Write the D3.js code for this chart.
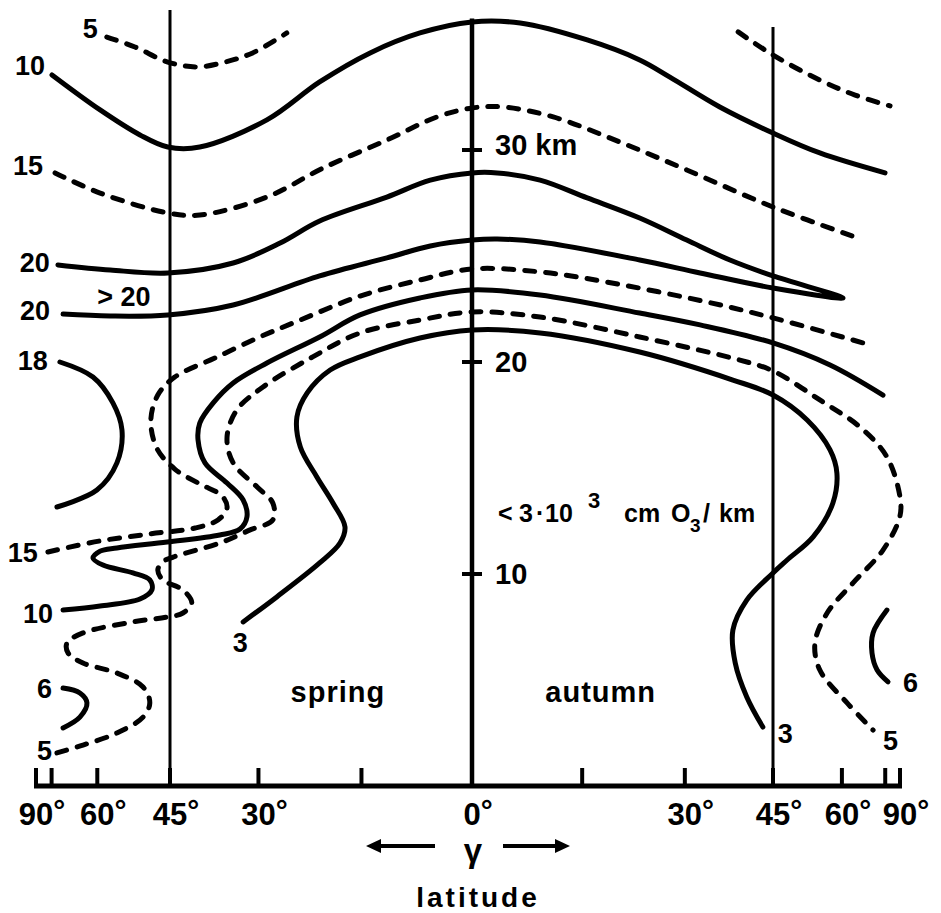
<!DOCTYPE html>
<html>
<head>
<meta charset="utf-8">
<script src="https://cdn.jsdelivr.net/npm/d3@7"></script>
<style>
  html, body { margin: 0; padding: 0; background: #fff; }
  svg { display: block; }
  text { font-family: "Liberation Sans", Arial, sans-serif; font-weight: bold; fill: #000; }
</style>
</head>
<body>
<svg id="chart" width="941" height="913"></svg>
<script>
// Ozone density isopleths (units of 10^3 cm O3/km) against latitude and height.
// Each point: [latitude in degrees (spring hemisphere negative, autumn positive), height in km]

const spring5High = [[-57.7,35.33],[-51.6,34.86],[-45.4,34.15],[-40.1,33.92],[-35.3,34.15],[-30.9,34.58],[-25.7,35.52]];
const autumn5High = [[38.7,35.57],[45,34.48],[54.6,33.30],[63.7,32.59],[77.7,32.08]];

const iso10High = [[-74.8,33.54],[-59.3,31.89],[-50.6,30.71],[-45.4,30.14],[-39.6,30.14],[-28.7,31.42],
  [-20.9,33.21],[-13.8,34.58],[-7.0,35.52],[0,36.04],[6.5,35.99],[15.7,35.19],[23.2,34.25],[27.7,33.44],
  [35.6,32.03],[45,30.80],[54.6,29.86],[74.9,28.92]];

const iso15High = [[-73.4,28.92],[-59.3,27.97],[-45.4,27.03],[-39.6,26.93],[-28.7,27.78],[-20.4,29.15],
  [-11.5,30.47],[-4.7,31.56],[0,31.98],[4.2,32.03],[11.0,31.56],[20.3,30.38],[30.3,29.06],[45,27.31],[64.6,25.85]];

// closed lens of the 20 isopleth: upper branch eastward, back along the lower branch
const iso20 = [[-72.2,24.58],[-56.9,24.34],[-45.4,24.20],[-34.0,24.67],[-26.7,25.61],[-20.9,26.65],
  [-11.5,27.78],[-5.6,28.58],[0,28.92],[3.4,28.92],[9.2,28.58],[15.7,27.74],[23.2,26.79],[30.3,25.75],
  [37.3,24.81],[45,24.06],[60.3,23.02],
  [45,23.49],[32.4,24.20],[23.2,24.81],[9.2,25.66],[3.4,25.80],[0,25.75],[-5.6,25.47],[-11.5,24.91],
  [-20.9,24.06],[-34.0,22.69],[-45.4,22.22],[-56.9,22.17],[-70.2,22.26]];

const iso18 = [[-71.4,20.0],[-61.1,19.29],[-56.3,18.07],[-54.3,16.79],[-55.4,15.24],[-60.1,13.96],[-72.6,13.16]];

const iso15Low = [[-76.9,11.04],[-59.3,11.56],[-48.7,11.89],[-40.4,12.17],[-36.5,12.55],[-35.0,13.11],
  [-35.8,13.68],[-39.6,14.25],[-44.1,14.95],[-47.4,15.94],[-48.5,17.26],[-47.2,18.44],[-44.1,19.29],
  [-37.0,20.19],[-29.8,21.18],[-23.7,21.98],[-15.2,23.11],[-7.0,23.87],[0,24.39],[9.2,24.25],
  [18.5,23.77],[33.5,22.83],[45,22.08],[66.2,20.90]];

const iso10Low = [[-70.2,8.30],[-59.3,8.49],[-50.6,8.82],[-48.3,9.25],[-48.7,9.72],[-52.0,10.05],
  [-58.6,10.42],[-61.1,10.75],[-59.3,11.08],[-55.4,11.23],[-45.5,11.51],[-36.2,11.84],[-32.9,12.12],
  [-31.8,12.69],[-32.4,13.49],[-35.0,14.29],[-38.7,15.24],[-39.9,16.32],[-39.6,17.12],[-37.3,18.07],
  [-34.0,19.01],[-28.7,19.95],[-20.9,21.18],[-15.2,22.22],[-7.0,23.02],[0,23.40],[9.2,23.16],
  [23.2,22.31],[32.4,21.75],[45,20.90],[57.0,19.86],[73.9,18.44]];

const iso5Low = [[-72.6,1.56],[-63.8,1.93],[-55.4,2.50],[-50.0,3.25],[-48.7,3.92],[-50.0,4.67],
  [-55.4,5.33],[-63.8,5.80],[-68.4,6.27],[-68.8,6.75],[-63.8,7.22],[-52.0,7.74],[-45.5,7.97],
  [-42.6,8.16],[-41.0,8.63],[-42.6,9.25],[-46.3,9.72],[-47.2,10.19],[-46.3,10.57],[-44.4,10.80],
  [-36.2,11.46],[-31.3,12.08],[-27.8,12.55],[-27.8,13.35],[-30.2,14.10],[-34.0,15.24],[-35.0,16.46],
  [-33.4,17.74],[-29.3,18.82],[-21.9,20.24],[-15.2,21.37],[-7.0,21.98],[0,22.36],[9.2,22.12],
  [23.2,21.18],[39.0,20.09],[45,19.58],[54.6,18.21],[65.2,16.93],[75.9,15.52],[90,13.63],[88,12.69],
  [73.9,11.13],[63.1,9.58],[56.3,8.16],[53.5,6.75],[54.6,5.47],[61.4,3.92],[69.7,2.64]];

const iso3 = [[-32.4,7.74],[-27.2,8.92],[-20.9,10.52],[-18.0,11.46],[-17.3,12.22],[-19.0,13.35],
  [-21.3,14.58],[-23.7,15.99],[-24.2,17.41],[-22.7,18.54],[-19.4,19.62],[-15.2,20.24],[-7.0,21.13],
  [0,21.51],[9.2,21.37],[23.2,20.47],[37.8,19.15],[45,18.44],[51.8,17.26],[57.0,15.85],[58.7,14.76],
  [57.7,13.35],[53.1,11.75],[47.7,10.66],[45,10.05],[40.2,8.77],[37.8,7.36],[38.2,5.80],[40.2,4.20],[43.1,2.78]];

const spring6 = [[-70.2,4.62],[-64.7,4.39],[-62.7,3.92],[-64.7,3.25],[-70.2,2.74]];
const autumn6 = [[75.9,8.30],[69.7,7.22],[69.3,6.27],[71.3,5.47],[76.5,4.91]];

// axis values
const latTicks = [-90,-75,-60,-45,-30,-15,0,15,30,45,60,75,90];
const latLabels = [-90,-60,-45,-30,0,30,45,60,90];
const heightTicks = [10,20,30];
const heightLabels = ["10","20","30 km"];
const meridianLats = [-45,0,45];
const meridianTops = [36.6,36.2,35.8];

// ---------------------------------------------------------------
const svg = d3.select("#chart");
svg.append("rect").attr("width",941).attr("height",913).attr("fill","#fff");

// equal-area latitude axis: position proportional to sin(latitude)
const S45 = Math.SQRT1_2;
const xSin = d3.scaleLinear().domain([-1,-S45,0,S45,1]).range([36,170,472,773,900]);
const xPos = lat => xSin(Math.sin(lat * Math.PI / 180));
const yPos = d3.scaleLinear().domain([0,30]).range([786,150]);

// meridians at 45° and the equator
svg.append("g").selectAll("line").data(meridianLats).join("line")
  .attr("x1", d => xPos(d)).attr("x2", d => xPos(d))
  .attr("y1", (d,i) => yPos(meridianTops[i])).attr("y2", yPos(0))
  .attr("stroke","#000").attr("stroke-width", d => d === 0 ? 4.5 : 3);

// height ticks on the equator line
const hg = svg.append("g");
hg.selectAll("line").data(heightTicks).join("line")
  .attr("x1", xPos(0) - 10).attr("x2", xPos(0) + 10)
  .attr("y1", d => yPos(d)).attr("y2", d => yPos(d))
  .attr("stroke","#000").attr("stroke-width",4);
hg.selectAll("text").data(heightTicks).join("text")
  .attr("x", xPos(0) + 23).attr("y", (d,i) => yPos(d) + (i === 2 ? 5 : 10))
  .attr("font-size",29).text((d,i) => heightLabels[i]);

// isopleths
const line = d3.line().x(d => xPos(d[0])).y(d => yPos(d[1])).curve(d3.curveCatmullRom.alpha(0.5));

const contours = [
  { pts: spring5High, dashed: true,  labels: [{ t:"5",  at:"start", anchor:"end", dx:-9,  dy:1 }] },
  { pts: autumn5High, dashed: true,  labels: [] },
  { pts: iso10High,   dashed: false, labels: [{ t:"10", at:"start", anchor:"end", dx:-7,  dy:0 }] },
  { pts: iso15High,   dashed: true,  labels: [{ t:"15", at:"start", anchor:"end", dx:-12, dy:2 }] },
  { pts: iso20,       dashed: false, labels: [{ t:"20", at:"start", anchor:"end", dx:-8,  dy:7 },
                                              { t:"20", at:"end",   anchor:"end", dx:-13, dy:6 }] },
  { pts: iso18,       dashed: false, labels: [{ t:"18", at:"start", anchor:"end", dx:-12, dy:8 }] },
  { pts: iso15Low,    dashed: true,  labels: [{ t:"15", at:"start", anchor:"end", dx:-10, dy:10 }] },
  { pts: iso10Low,    dashed: false, labels: [{ t:"10", at:"start", anchor:"end", dx:-10, dy:13 }] },
  { pts: iso5Low,     dashed: true,  labels: [{ t:"5",  at:"start", anchor:"end", dx:-5,  dy:7 },
                                              { t:"5",  at:"end",   anchor:"start", dx:10, dy:20 }] },
  { pts: iso3,        dashed: false, labels: [{ t:"3",  at:"start", anchor:"middle", dx:-3, dy:30 },
                                              { t:"3",  at:"end",   anchor:"start", dx:15, dy:16 }] },
  { pts: spring6,     dashed: false, labels: [{ t:"6",  at:"start", anchor:"end", dx:-11, dy:10 }] },
  { pts: autumn6,     dashed: false, labels: [{ t:"6",  at:"end",   anchor:"start", dx:15, dy:10 }] }
];

const cg = svg.append("g");
cg.selectAll("path").data(contours).join("path")
  .attr("d", d => line(d.pts))
  .attr("fill","none").attr("stroke","#000").attr("stroke-width",5)
  .attr("stroke-linecap","round").attr("stroke-linejoin","round")
  .attr("stroke-dasharray", d => d.dashed ? "10,11" : null);

const labelData = contours.flatMap(c => c.labels.map(l => {
  const p = l.at === "start" ? c.pts[0] : c.pts[c.pts.length - 1];
  return { ...l, x: xPos(p[0]) + l.dx, y: yPos(p[1]) + l.dy };
}));
cg.selectAll("text.lab").data(labelData).join("text").attr("class","lab")
  .attr("x", d => d.x).attr("y", d => d.y).attr("text-anchor", d => d.anchor)
  .attr("font-size",27).text(d => d.t);

cg.append("text").attr("x", xPos(-53.9)).attr("y", yPos(22.64))
  .attr("text-anchor","middle").attr("font-size",27).text("> 20");

// annotations
const ann = svg.append("text").attr("y", 522).attr("font-size",25);
const x0 = xPos(0);
[["<",26],["3",47],["·",64],["10",73],["cm",152],["O",199],["/",231],["km",247]].forEach(([t,dx]) => {
  ann.append("tspan").attr("x", x0 + dx).text(t);
});
svg.append("text").attr("x", x0 + 116).attr("y", 508).attr("font-size",22).text("3");
svg.append("text").attr("x", x0 + 218).attr("y", 532).attr("font-size",19).text("3");

svg.append("text").attr("x", xPos(-18.3)).attr("y", yPos(3.96)).attr("text-anchor","middle")
  .attr("font-size",29).attr("letter-spacing",1).text("spring");
svg.append("text").attr("x", xPos(17.6)).attr("y", yPos(3.96)).attr("text-anchor","middle")
  .attr("font-size",29).attr("letter-spacing",1).text("autumn");

// latitude axis
const ag = svg.append("g");
ag.append("line").attr("x1", xPos(-90) - 2).attr("x2", xPos(90) + 2)
  .attr("y1", yPos(0)).attr("y2", yPos(0)).attr("stroke","#000").attr("stroke-width",5);
ag.selectAll("line.tick").data(latTicks).join("line").attr("class","tick")
  .attr("x1", d => xPos(d)).attr("x2", d => xPos(d))
  .attr("y1", yPos(0)).attr("y2", yPos(0) - 18)
  .attr("stroke","#000").attr("stroke-width",4);

// tick labels: digits centred on the tick, raised degree sign after them
ag.selectAll("text.tl").data(latLabels).join("text").attr("class","tl")
  .attr("y", 825).attr("font-size",31)
  .each(function(d) {
    const t = d3.select(this);
    t.append("tspan").text(Math.abs(d));
    const w = this.getComputedTextLength();
    t.attr("x", xPos(d) - w / 2);
    t.append("tspan").attr("dy", -4).attr("font-size",30).text("°");
  });

// direction arrows and caption
const arr = svg.append("g");
arr.append("line").attr("x1",376).attr("x2",435).attr("y1",846).attr("y2",846)
  .attr("stroke","#000").attr("stroke-width",4);
arr.append("path").attr("d","M366,846 L381,839 L381,853 Z").attr("fill","#000");
arr.append("line").attr("x1",503).attr("x2",560).attr("y1",846).attr("y2",846)
  .attr("stroke","#000").attr("stroke-width",4);
arr.append("path").attr("d","M570,846 L555,839 L555,853 Z").attr("fill","#000");
svg.append("text").attr("x",473).attr("y",862).attr("text-anchor","middle")
  .attr("font-size",33).text("γ");
svg.append("text").attr("x",478).attr("y",907).attr("text-anchor","middle")
  .attr("font-size",28).attr("letter-spacing",3).text("latitude");
</script>
</body>
</html>
